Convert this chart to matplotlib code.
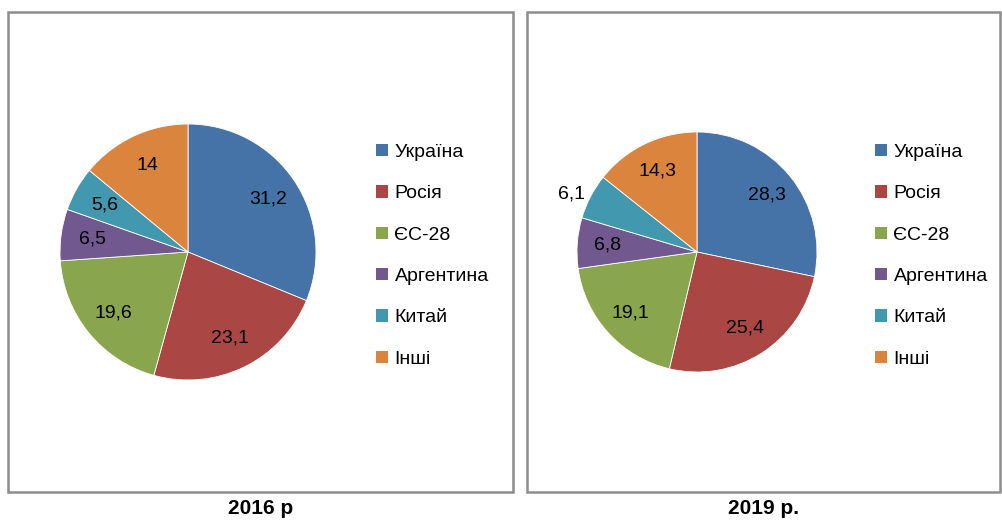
import matplotlib.pyplot as plt
from matplotlib.patches import Rectangle, Patch

plt.rcParams['font.family'] = ['Liberation Sans Narrow', 'Liberation Sans', 'DejaVu Sans']

countries = ['Україна', 'Росія', 'ЄС-28', 'Аргентина', 'Китай', 'Інші']
share_2016 = [31.2, 23.1, 19.6, 6.5, 5.6, 14]
share_2019 = [28.3, 25.4, 19.1, 6.8, 6.1, 14.3]
colors = ['#4572A7', '#AA4643', '#89A54E', '#71588F', '#4198AF', '#DB843D']

W, H = 1002, 524
fig = plt.figure(figsize=(W / 100, H / 100), dpi=100)


def fmt(v):
    return ('%g' % v).replace('.', ',')


def draw_panel(cx, cy, r, values, box, legend_x, caption, outside=()):
    ax = fig.add_axes([(cx - r) / W, (H - cy - r) / H, 2 * r / W, 2 * r / H])
    wedges, texts, autotexts = ax.pie(
        values, colors=colors, startangle=90, counterclock=False,
        autopct='%1.1f', pctdistance=0.75,
        wedgeprops=dict(edgecolor='white', linewidth=0.6),
        textprops=dict(fontsize=14, color='black'))
    for i, (t, v) in enumerate(zip(autotexts, values)):
        t.set_text(fmt(v))
        if i in outside:
            x, y = t.get_position()
            t.set_position((x * 1.57, y * 1.4))
    ax.set_xlim(-1, 1)
    ax.set_ylim(-1, 1)

    x0, y0, x1, y1 = box
    fig.add_artist(Rectangle((x0 / W, 1 - y1 / H), (x1 - x0) / W, (y1 - y0) / H,
                             transform=fig.transFigure, fill=False,
                             edgecolor='#8c8c8c', linewidth=1.8))

    handles = [Patch(facecolor=c, edgecolor='none') for c in colors]
    fig.legend(handles, countries, loc='upper left',
               bbox_to_anchor=(legend_x / W, 1 - 144 / H),
               frameon=False, fontsize=14, borderpad=0, borderaxespad=0,
               handlelength=0.6, handleheight=0.6, handletextpad=0.35,
               labelspacing=1.25)

    fig.text(((x0 + x1) / 2) / W, 1 - 509 / H, caption, ha='center', va='center',
             fontsize=15, fontweight='bold', family=['Liberation Sans', 'DejaVu Sans'])


draw_panel(188, 252, 128, share_2016, (8, 12, 513, 492), 376, '2016 р')
draw_panel(697, 252, 120, share_2019, (527, 12, 1000, 492), 875, '2019 р.', outside=(4,))

fig.savefig('out.png', dpi=100)
